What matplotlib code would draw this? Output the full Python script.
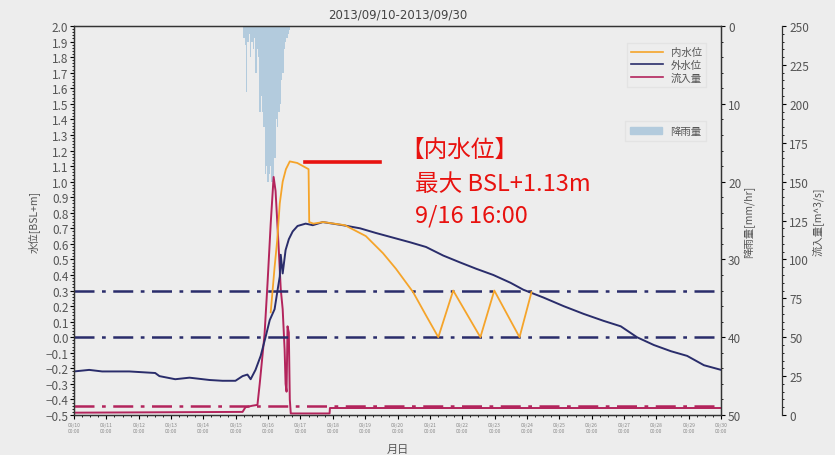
import numpy as np
import pandas as pd
import matplotlib
matplotlib.use('Agg')
import matplotlib.pyplot as plt
import matplotlib.dates as mdates
from matplotlib.ticker import MultipleLocator
from matplotlib.patches import Patch
from matplotlib.lines import Line2D

plt.rcParams['font.family'] = ['Noto Sans CJK JP', 'DejaVu Sans']

START = pd.Timestamp('2013-09-10')
END = pd.Timestamp('2013-09-30')

# 外水位 (outer water level) : days since 09/10 00:00, BSL+m
outer_days = [0.0, 0.47, 0.87, 1.71, 2.51, 2.64, 3.13, 3.57, 4.19, 4.59, 4.99,
              5.21, 5.36, 5.46, 5.61, 5.77, 5.92, 6.05, 6.20, 6.29, 6.36, 6.39,
              6.45, 6.54, 6.64, 6.76, 6.91, 7.16, 7.38, 7.69, 8.31, 8.84, 9.33,
              9.86, 10.39, 10.88, 11.41, 11.94, 12.43, 12.96, 13.49, 13.89,
              14.51, 15.13, 15.75, 16.37, 16.90, 17.40, 17.92, 18.45, 18.95,
              19.47, 20.0]
outer_level = [-0.22, -0.21, -0.22, -0.22, -0.23, -0.25, -0.27, -0.26, -0.275,
               -0.28, -0.28, -0.25, -0.24, -0.27, -0.21, -0.12, 0.0, 0.11, 0.18,
               0.30, 0.39, 0.53, 0.41, 0.56, 0.63, 0.68, 0.715, 0.73, 0.72,
               0.74, 0.72, 0.70, 0.67, 0.64, 0.61, 0.58, 0.525, 0.48, 0.44,
               0.40, 0.35, 0.305, 0.255, 0.20, 0.15, 0.105, 0.07, 0.0, -0.05,
               -0.09, -0.12, -0.18, -0.21]

# 内水位 (inner water level)
inner_days = [6.08, 6.20, 6.28, 6.36, 6.45, 6.55, 6.67, 6.90, 7.25, 7.27, 7.40,
              7.70, 8.37, 9.02, 9.55, 9.95, 10.48, 10.88, 11.26, 11.72, 12.56,
              12.99, 13.77, 14.14]
inner_level = [0.16, 0.45, 0.62, 0.86, 1.00, 1.08, 1.13, 1.12, 1.08, 0.74,
               0.73, 0.74, 0.72, 0.65, 0.54, 0.44, 0.29, 0.14, 0.0, 0.30, 0.0,
               0.30, 0.0, 0.29]

# 流入量 (inflow) m^3/s
inflow_days = [0.0, 5.21, 5.30, 5.52, 5.67, 5.74, 5.89, 5.98, 6.08, 6.17, 6.23,
               6.33, 6.39, 6.45, 6.51, 6.54, 6.57, 6.60, 6.64, 6.67, 6.70, 7.90,
               7.91, 20.0]
inflow = [1.5, 2, 5, 6, 6.5, 20, 52, 84, 123, 153, 144, 106, 81, 68, 42, 20,
          15, 57, 53, 10, 1, 1, 4.5, 4.5]

# 降雨量 (rainfall) mm/hr, hourly from 09/15 06:00
rain_start = pd.Timestamp('2013-09-15 06:00')
rain_mm = [1.5, 2.5, 8.5, 2, 1, 4, 2, 3, 1.5, 6, 3, 4, 11, 9, 11, 13, 19, 18,
           20, 19, 18, 20, 19.5, 17, 12, 13, 11, 10, 7, 6, 3, 2, 1.5, 1, 0.5]

# reference levels
pump_levels = [0.3, 0.0]
inflow_ref = 6

ORANGE = '#f5a42a'
NAVY = '#2a2d6b'
CRIMSON = '#b3245c'
RAIN = '#b3cbdd'
GRAY = '#555555'
BG = '#ededed'


def to_time(days):
    return START + pd.to_timedelta(np.array(days), unit='D')


fig = plt.figure(figsize=(8.35, 4.56), dpi=100, facecolor=BG)
ax = fig.add_axes([0.0886, 0.0877, 0.775, 0.853])
ax_rain = ax.twinx()
ax_q = ax.twinx()

ax_rain.set_zorder(1)
ax_q.set_zorder(2)
ax.set_zorder(3)
ax.patch.set_visible(False)
ax_q.patch.set_visible(False)
ax_rain.patch.set_facecolor('#f1f1f1')

# rainfall bars hanging from the top
rain_t = rain_start + pd.to_timedelta(np.arange(len(rain_mm)), unit='h')
ax_rain.bar(rain_t, rain_mm, width=1 / 24, color=RAIN, align='center', linewidth=0)
ax_rain.set_ylim(50, 0)
ax_rain.yaxis.set_major_locator(MultipleLocator(10))
ax_rain.yaxis.set_minor_locator(MultipleLocator(2))
ax_rain.set_ylabel('降雨量[mm/hr]', fontsize=7.5, color=GRAY, labelpad=2)

# inflow
ax_q.plot(to_time(inflow_days), inflow, color=CRIMSON, lw=1.4)
ax_q.axhline(inflow_ref, color=CRIMSON, lw=1.8, ls=(0, (8, 3, 1.5, 3)))
ax_q.set_ylim(0, 250)
ax_q.yaxis.set_major_locator(MultipleLocator(25))
ax_q.yaxis.set_minor_locator(MultipleLocator(5))
ax_q.spines['right'].set_position(('outward', 44))
ax_q.set_ylabel('流入量[m^3/s]', fontsize=7.5, color=GRAY, labelpad=2)

# water levels
for lv in pump_levels:
    ax.axhline(lv, color=NAVY, lw=1.8, ls=(0, (8, 3, 1.5, 3)))
ax.plot(to_time(outer_days), outer_level, color=NAVY, lw=1.4)
ax.plot(to_time(inner_days), inner_level, color=ORANGE, lw=1.3)

ax.set_xlim(START, END)
ax.set_ylim(-0.5, 2.0)
ax.yaxis.set_major_locator(MultipleLocator(0.1))
ax.yaxis.set_minor_locator(MultipleLocator(0.02))
ax.set_ylabel('水位[BSL+m]', fontsize=7.5, color=GRAY, labelpad=4)
ax.set_xlabel('月日', fontsize=8, color=GRAY, labelpad=8)
ax.xaxis.set_major_locator(mdates.DayLocator())
ax.xaxis.set_minor_locator(mdates.HourLocator(byhour=[6, 12, 18]))
ax.xaxis.set_major_formatter(mdates.DateFormatter('%m/%d\n%H:%M'))
ax.tick_params(axis='x', labelsize=3.5, labelcolor='#888888', length=3, pad=2)
ax.tick_params(axis='x', which='minor', length=1.5)
ax.tick_params(axis='y', labelsize=8.5, labelcolor=GRAY, length=3, pad=1)
ax.tick_params(axis='y', which='minor', length=1.5)
for a in (ax_rain, ax_q):
    a.tick_params(axis='y', labelsize=8.5, labelcolor=GRAY, length=3, pad=2)
    a.tick_params(axis='y', which='minor', length=1.5)
for a in (ax, ax_rain, ax_q):
    for s in a.spines.values():
        s.set_color('#333333')
        s.set_linewidth(0.9)
for s in ('top', 'bottom', 'left'):
    ax_q.spines[s].set_visible(False)

ax.set_title('2013/09/10-2013/09/30', fontsize=8.5, color='#444444', pad=6,
             family='DejaVu Sans')

# legends
line_handles = [Line2D([], [], color=ORANGE, lw=1.2),
                Line2D([], [], color=NAVY, lw=1.2),
                Line2D([], [], color=CRIMSON, lw=1.2)]
leg1 = ax.legend(line_handles, ['内水位', '外水位', '流入量'], loc='upper right',
                 bbox_to_anchor=(0.985, 0.97), fontsize=7.5, labelcolor=GRAY,
                 frameon=True, framealpha=0.6, edgecolor='#dddddd',
                 facecolor='#eeeeee', handlelength=3, borderpad=0.4,
                 labelspacing=0.25, fancybox=False)
ax.add_artist(leg1)
ax.legend([Patch(color=RAIN)], ['降雨量'], loc='upper right',
          bbox_to_anchor=(0.985, 0.77), fontsize=7.5, labelcolor=GRAY,
          frameon=True, framealpha=0.6, edgecolor='#dddddd', facecolor='#eeeeee',
          handlelength=3, borderpad=0.5, fancybox=False)

# annotation of the maximum inner level
RED = '#e8120f'
ax.add_line(Line2D([0.357, 0.473], [0.651, 0.651], transform=ax.transAxes,
                   color=RED, lw=2.6))
ax.text(0.505, 0.684, '【内水位】', transform=ax.transAxes, color=RED,
        fontsize=17, va='center', ha='left')
ax.text(0.527, 0.595, '最大 BSL+1.13m', transform=ax.transAxes, color=RED,
        fontsize=17, va='center', ha='left')
ax.text(0.527, 0.515, '9/16 16:00', transform=ax.transAxes, color=RED,
        fontsize=17, va='center', ha='left')

fig.savefig('out.png', dpi=100, facecolor=BG)
